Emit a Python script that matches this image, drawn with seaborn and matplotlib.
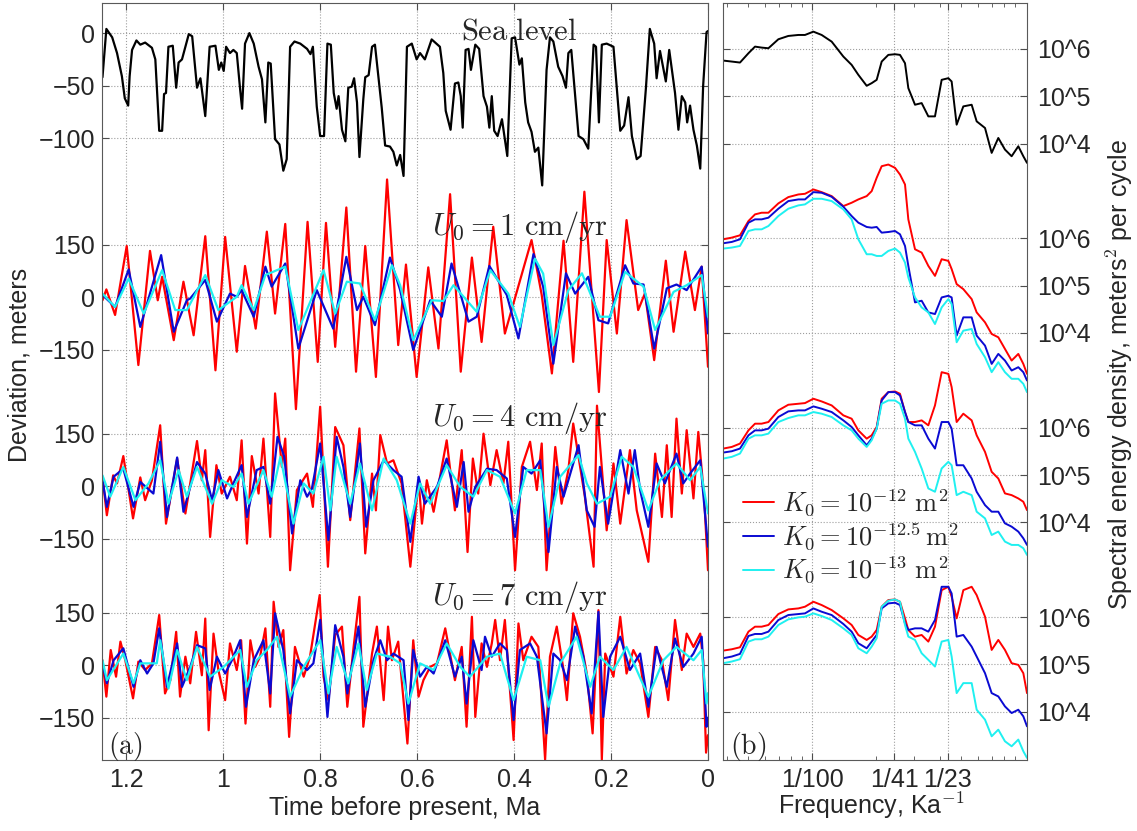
import numpy as np
import matplotlib
matplotlib.use("Agg")
import matplotlib.pyplot as plt
import seaborn as sns
from matplotlib.lines import Line2D
from matplotlib.ticker import LogLocator, NullFormatter, NullLocator

# ---------------- (a) time series: (time before present [Ma], value [m]) ----------------
sea_level = np.array([
    (1.249, -42), (1.241, 4), (1.229, -4), (1.219, -19), (1.209, -41), (1.203, -62), (1.196, -69),
    (1.193, -41), (1.188, -16), (1.179, -7), (1.171, -11), (1.161, -9), (1.147, -14), (1.140, -25),
    (1.137, -51), (1.132, -93), (1.126, -93), (1.122, -58), (1.118, -57), (1.113, -13), (1.104, -12),
    (1.097, -52), (1.092, -28), (1.085, -25), (1.071, -1), (1.064, -3), (1.054, -52), (1.047, -43),
    (1.037, -79), (1.028, -13), (1.016, -12), (1.009, -35), (1.004, -28), (0.999, -36), (0.994, -13),
    (0.986, -19), (0.979, -16), (0.972, -19), (0.965, -54), (0.961, -72), (0.955, -10), (0.946, 0),
    (0.937, -10), (0.927, -32), (0.920, -44), (0.913, -85), (0.907, -28), (0.902, -29), (0.893, -101),
    (0.884, -106), (0.876, -131), (0.869, -120), (0.862, -13), (0.853, -8), (0.841, -10), (0.827, -15),
    (0.820, -20), (0.815, -13), (0.807, -70), (0.800, -98), (0.792, -98), (0.785, -10), (0.778, -11),
    (0.772, -57), (0.766, -72), (0.762, -60), (0.755, -92), (0.748, -103), (0.742, -52), (0.735, -51),
    (0.730, -43), (0.724, -66), (0.719, -118), (0.711, -63), (0.707, -42), (0.700, -40), (0.693, -13),
    (0.687, -11), (0.680, -41), (0.673, -71), (0.666, -107), (0.656, -108), (0.649, -113), (0.642, -126),
    (0.635, -116), (0.628, -136), (0.621, -13), (0.611, -10), (0.601, -25), (0.594, -19), (0.584, -25),
    (0.570, -6), (0.553, -13), (0.546, -38), (0.541, -74), (0.531, -92), (0.522, -48), (0.515, -47),
    (0.510, -60), (0.506, -90), (0.500, -16), (0.494, -15), (0.489, -35), (0.480, -11), (0.472, -15),
    (0.463, -60), (0.456, -70), (0.451, -90), (0.446, -60), (0.441, -93), (0.434, -98), (0.425, -82),
    (0.414, -117), (0.405, -5), (0.398, -4), (0.389, -30), (0.384, -24), (0.377, -66), (0.371, -85),
    (0.364, -94), (0.357, -113), (0.350, -109), (0.342, -145), (0.333, -35), (0.326, -4), (0.319, -8),
    (0.309, -32), (0.300, -41), (0.293, -52), (0.288, -19), (0.282, -16), (0.274, -60), (0.267, -98),
    (0.257, -101), (0.247, -110), (0.236, -11), (0.231, -13), (0.225, -85), (0.219, -11), (0.209, -10),
    (0.195, -13), (0.181, -93), (0.173, -88), (0.164, -61), (0.157, -98), (0.147, -120), (0.139, -117),
    (0.128, -52), (0.120, 4), (0.111, -10), (0.106, -43), (0.099, -17), (0.087, -46), (0.080, -16),
    (0.068, -57), (0.061, -92), (0.054, -60), (0.047, -66), (0.043, -85), (0.037, -69), (0.030, -92),
    (0.023, -107), (0.016, -129), (0.010, -50), (0.003, 1), (0.000, 2)])

# U0 = 1 cm/yr
u1_k12 = np.array([
    (1.249, -9), (1.241, 22), (1.223, -51), (1.199, 146), (1.175, -194), (1.151, 132), (1.135, -9),
    (1.126, 58), (1.102, -123), (1.082, 44), (1.061, -109), (1.037, 174), (1.016, -209), (0.996, 172),
    (0.972, -156), (0.955, 89), (0.933, -90), (0.910, 187), (0.893, -47), (0.872, 209), (0.850, -320),
    (0.826, 215), (0.805, -185), (0.788, 212), (0.769, -142), (0.746, 256), (0.726, -213), (0.707, 146),
    (0.685, -228), (0.662, 336), (0.639, -137), (0.623, 93), (0.601, -228), (0.577, 85), (0.556, -147),
    (0.532, 294), (0.510, -213), (0.487, 113), (0.467, -128), (0.443, 201), (0.419, -104), (0.364, 163),
    (0.343, 6), (0.322, -218), (0.298, 161), (0.278, -185), (0.255, 301), (0.225, -271), (0.209, 163),
    (0.188, -104), (0.168, 220), (0.144, -37), (0.130, 11), (0.111, -180), (0.087, 104), (0.071, -99),
    (0.047, 130), (0.027, -37), (0.013, 87), (0.000, -199)])
u1_k125 = np.array([
    (1.249, 6), (1.223, -28), (1.195, 79), (1.171, -85), (1.128, 120), (1.102, -99), (1.075, -9),
    (1.068, -4), (1.037, 49), (1.013, -70), (0.986, 10), (0.972, 1), (0.962, 20), (0.937, -56),
    (0.913, 87), (0.900, 30), (0.872, 96), (0.845, -147), (0.807, 20), (0.773, -90), (0.746, 115),
    (0.724, -37), (0.711, 1), (0.687, -80), (0.656, 113), (0.635, 20), (0.608, -151), (0.573, -9),
    (0.549, -56), (0.529, 96), (0.494, -70), (0.477, -56), (0.451, 89), (0.415, 6), (0.391, -118),
    (0.360, 123), (0.340, 30), (0.319, -190), (0.293, 68), (0.274, 10), (0.247, 58), (0.226, -66),
    (0.206, -75), (0.171, 91), (0.154, 39), (0.133, 36), (0.111, -147), (0.085, 25), (0.065, 36),
    (0.044, 20), (0.013, 87), (0.000, -104)])
u1_k13 = np.array([
    (1.249, 10), (1.223, -28), (1.195, 53), (1.164, -47), (1.126, 77), (1.099, -37), (1.075, -37),
    (1.037, 63), (1.010, -37), (0.972, 1), (0.962, 34), (0.937, -37), (0.913, 63), (0.872, 87),
    (0.845, -94), (0.793, 77), (0.769, -47), (0.745, 44), (0.718, 39), (0.687, -66), (0.652, 91),
    (0.635, 34), (0.608, -123), (0.570, -9), (0.546, -11), (0.525, 34), (0.477, -42), (0.449, 77),
    (0.412, 10), (0.388, -85), (0.357, 110), (0.340, 67), (0.319, -137), (0.288, 20), (0.260, 68),
    (0.223, -56), (0.202, -56), (0.171, 72), (0.133, 30), (0.109, -94), (0.071, 15), (0.044, 34),
    (0.013, 63), (0.000, -56)])

# U0 = 4 cm/yr
u4_k12 = np.array([
    (1.249, 27), (1.240, -83), (1.227, 31), (1.219, 8), (1.206, 86), (1.186, -92), (1.171, 25),
    (1.161, -40), (1.147, 17), (1.130, 174), (1.118, -107), (1.095, 79), (1.078, -78), (1.068, 8),
    (1.054, 129), (1.044, 17), (1.037, 103), (1.027, -145), (1.014, 60), (1.003, -21), (0.986, 27),
    (0.972, -40), (0.962, 131), (0.951, -164), (0.941, 86), (0.927, -21), (0.917, 136), (0.903, -145),
    (0.893, 265), (0.879, 55), (0.872, 136), (0.862, -240), (0.848, -11), (0.827, 36), (0.815, -59),
    (0.800, 227), (0.784, -230), (0.769, 169), (0.752, 117), (0.738, -97), (0.719, 165), (0.707, -192),
    (0.693, 36), (0.685, -69), (0.676, 146), (0.662, 65), (0.649, 74), (0.632, 8), (0.614, -230),
    (0.597, 17), (0.590, -107), (0.580, 17), (0.566, -73), (0.539, 131), (0.522, -69), (0.508, 103),
    (0.496, -188), (0.485, 79), (0.474, -21), (0.463, 150), (0.449, 3), (0.436, 103), (0.422, 8),
    (0.412, 127), (0.398, -240), (0.384, 55), (0.367, 127), (0.353, -11), (0.343, 122), (0.333, -240),
    (0.315, 112), (0.302, -50), (0.288, 46), (0.278, 179), (0.254, -30), (0.236, -230), (0.229, 230),
    (0.209, -126), (0.195, 65), (0.181, -107), (0.161, 103), (0.147, -69), (0.123, -216), (0.109, 93),
    (0.095, -88), (0.085, 117), (0.075, -88), (0.065, 193), (0.054, -21), (0.044, 160), (0.030, -35),
    (0.020, 155), (0.008, -30), (0.000, -240)])
u4_k125 = np.array([
    (1.249, 17), (1.240, -59), (1.226, 27), (1.206, 50), (1.185, -59), (1.171, 12), (1.144, -21),
    (1.130, 127), (1.116, -88), (1.095, 82), (1.082, -73), (1.054, 69), (1.037, 36), (1.023, -40),
    (1.010, 46), (0.992, -35), (0.979, 8), (0.962, 60), (0.951, -88), (0.931, 46), (0.917, 55),
    (0.903, -50), (0.888, 141), (0.874, 84), (0.858, -135), (0.841, 17), (0.827, -30), (0.817, -7),
    (0.800, 122), (0.783, -154), (0.766, 141), (0.752, 55), (0.738, -88), (0.718, 122), (0.705, -116),
    (0.690, 17), (0.669, 74), (0.649, 46), (0.632, 27), (0.614, -159), (0.597, 27), (0.584, -50),
    (0.559, -2), (0.539, 79), (0.518, -59), (0.504, 69), (0.494, -73), (0.480, -2), (0.456, 50),
    (0.436, 46), (0.415, 22), (0.398, -145), (0.381, 55), (0.364, 36), (0.346, 74), (0.329, -188),
    (0.312, 55), (0.298, -30), (0.267, 117), (0.250, -69), (0.234, -116), (0.223, 55), (0.206, -107),
    (0.181, 103), (0.164, -21), (0.151, 103), (0.140, -11), (0.123, -116), (0.106, 65), (0.089, 8),
    (0.065, 93), (0.051, 8), (0.037, 36), (0.016, 74), (0.000, -173)])
u4_k13 = np.array([
    (1.249, 31), (1.233, -30), (1.206, 55), (1.181, -40), (1.154, 8), (1.130, 74), (1.113, -50),
    (1.092, 46), (1.075, -30), (1.054, 55), (1.023, -50), (1.003, 17), (0.979, -2), (0.962, 36),
    (0.948, -50), (0.917, 46), (0.900, -30), (0.882, 84), (0.855, -107), (0.834, 8), (0.814, -21),
    (0.793, 84), (0.779, -69), (0.766, 84), (0.738, -50), (0.718, 65), (0.693, -69), (0.669, 79),
    (0.642, 17), (0.614, -107), (0.594, 8), (0.573, -50), (0.539, 60), (0.511, -2), (0.484, -30),
    (0.456, 46), (0.429, 27), (0.398, -78), (0.374, 46), (0.346, 46), (0.329, -116), (0.305, 27),
    (0.267, 89), (0.250, 8), (0.229, -50), (0.202, -30), (0.178, 84), (0.154, 55), (0.123, -69),
    (0.099, 17), (0.065, 65), (0.037, 17), (0.016, 55), (0.000, -78)])

# U0 = 7 cm/yr
u7_k12 = np.array([
    (1.249, 14), (1.241, -90), (1.232, 43), (1.221, -33), (1.212, 67), (1.202, 14), (1.186, -95),
    (1.175, 10), (1.161, -14), (1.147, 5), (1.132, 143), (1.120, -81), (1.109, -43), (1.097, 95),
    (1.089, -90), (1.078, 24), (1.068, -52), (1.056, 95), (1.044, -29), (1.037, 133), (1.030, -186),
    (1.020, 90), (1.010, -14), (0.996, -100), (0.986, 62), (0.972, -14), (0.963, 71), (0.954, -167),
    (0.944, 71), (0.934, -5), (0.924, 24), (0.913, 105), (0.903, -119), (0.896, 181), (0.886, 52),
    (0.876, 100), (0.864, -205), (0.852, 52), (0.834, -33), (0.821, 24), (0.801, 200), (0.793, -33),
    (0.783, -100), (0.769, 86), (0.755, 110), (0.744, -119), (0.731, 52), (0.719, 195), (0.711, -176),
    (0.693, 33), (0.683, 110), (0.669, -100), (0.660, 110), (0.652, 14), (0.639, 67), (0.620, -224),
    (0.608, 71), (0.597, -90), (0.587, -43), (0.573, -5), (0.559, 5), (0.542, 105), (0.522, -43),
    (0.508, 52), (0.498, -176), (0.487, 138), (0.480, -148), (0.467, 62), (0.456, -5), (0.446, 62),
    (0.439, 129), (0.429, 14), (0.419, 129), (0.401, -214), (0.391, 119), (0.381, 14), (0.364, 81),
    (0.350, 52), (0.336, -270), (0.326, 24), (0.312, 110), (0.298, -14), (0.291, -100), (0.278, 148),
    (0.264, 81), (0.250, -24), (0.238, -195), (0.226, 157), (0.219, -270), (0.212, 33), (0.195, -33),
    (0.181, 138), (0.168, -24), (0.154, 43), (0.140, 5), (0.123, -148), (0.109, 52), (0.095, 14),
    (0.082, -100), (0.068, 129), (0.054, -14), (0.044, 90), (0.030, 52), (0.016, 90), (0.010, 14),
    (0.004, -250), (0.000, -200)])
u7_k125 = np.array([
    (1.249, 5), (1.240, -52), (1.226, 14), (1.206, 48), (1.185, -62), (1.171, 14), (1.157, -24),
    (1.144, 5), (1.132, 105), (1.116, -62), (1.095, 62), (1.085, -62), (1.068, -5), (1.054, 57),
    (1.037, 48), (1.028, -71), (1.013, 24), (0.996, -24), (0.982, 14), (0.965, 71), (0.953, -119),
    (0.937, 14), (0.917, 71), (0.903, -81), (0.893, 148), (0.876, 43), (0.862, -138), (0.848, 14),
    (0.827, -14), (0.814, 5), (0.800, 129), (0.785, -148), (0.769, 114), (0.752, 24), (0.744, -81),
    (0.721, 110), (0.707, -119), (0.690, 14), (0.676, 71), (0.662, 14), (0.649, 33), (0.628, 14),
    (0.618, -157), (0.608, 43), (0.594, -33), (0.580, -5), (0.566, -24), (0.542, 71), (0.522, -33),
    (0.508, 24), (0.498, -110), (0.484, 71), (0.467, -14), (0.460, 81), (0.446, 24), (0.429, 62),
    (0.415, 43), (0.401, -157), (0.388, 43), (0.367, 62), (0.353, 24), (0.333, -195), (0.319, 33),
    (0.305, 14), (0.291, -43), (0.274, 110), (0.257, 24), (0.240, -138), (0.226, 152), (0.216, -148),
    (0.202, 24), (0.181, 81), (0.161, -14), (0.140, 33), (0.123, -119), (0.106, 52), (0.085, -62),
    (0.068, 76), (0.051, -5), (0.030, 33), (0.013, 81), (0.003, -176), (0.000, -150)])
u7_k13 = np.array([
    (1.249, 14), (1.240, -43), (1.206, 33), (1.185, -52), (1.171, 5), (1.137, 5), (1.130, 71),
    (1.113, -67), (1.095, 43), (1.075, -43), (1.054, 52), (1.027, -33), (0.999, -5), (0.965, 43),
    (0.951, -62), (0.931, 14), (0.910, 43), (0.889, 81), (0.862, -90), (0.834, -5), (0.800, 71),
    (0.783, -81), (0.766, 52), (0.742, -52), (0.721, 62), (0.704, -71), (0.683, 33), (0.656, 24),
    (0.635, 5), (0.618, -110), (0.594, 5), (0.566, -14), (0.539, 62), (0.511, -5), (0.491, -33),
    (0.456, 24), (0.429, 33), (0.401, -100), (0.374, 24), (0.346, 14), (0.329, -119), (0.305, 5),
    (0.271, 81), (0.243, -62), (0.223, 24), (0.195, -14), (0.168, 52), (0.123, -90), (0.092, 14),
    (0.065, 52), (0.030, 14), (0.013, 43), (0.003, -110), (0.000, -80)])

# ---------------- (b) spectra: frequency [1/ka], log10 of spectral density ----------------
spec_freq = [0.00383, 0.00420, 0.00459, 0.00503, 0.00540, 0.00580, 0.00624, 0.00695, 0.00774, 0.00863,
             0.00927, 0.01015, 0.01110, 0.01237, 0.01403, 0.01535, 0.01650, 0.01806, 0.01906, 0.02012,
             0.02124, 0.02282, 0.02453, 0.02589, 0.02733, 0.02833, 0.03045, 0.03272, 0.03517, 0.03779,
             0.04062, 0.04366, 0.04525, 0.04777, 0.05134, 0.05618, 0.05931, 0.06491, 0.06975, 0.07494,
             0.08053, 0.08655, 0.09304, 0.09822, 0.10220]
spec_sea = [5.754, 5.733, 5.712, 5.909, 6.049, 6.028, 6.014, 6.204, 6.274, 6.295,
            6.295, 6.365, 6.295, 6.154, 5.839, 5.663, 5.453, 5.221, 5.277, 5.347,
            5.733, 5.874, 5.888, 5.874, 5.698, 5.172, 4.821, 4.856, 4.575, 4.575,
            5.347, 5.382, 5.312, 4.400, 4.786, 4.821, 4.470, 4.330, 3.804, 4.119,
            3.874, 3.733, 3.944, 3.733, 3.593]
spec_u1_k12 = [5.979, 6.014, 6.063, 6.365, 6.505, 6.540, 6.540, 6.737, 6.870, 6.926,
               6.940, 7.032, 6.975, 6.891, 6.680, 6.751, 6.821, 6.891, 6.996, 7.278,
               7.523, 7.558, 7.488, 7.347, 7.137, 6.400, 5.768, 5.698, 5.417, 5.206,
               5.558, 5.523, 5.350, 5.032, 4.926, 4.716, 4.435, 4.225, 3.979, 3.909,
               3.663, 3.417, 3.558, 3.347, 3.137]
spec_u1_k125 = [5.895, 5.923, 5.979, 6.330, 6.400, 6.400, 6.435, 6.625, 6.786, 6.821,
                6.821, 6.975, 6.962, 6.877, 6.667, 6.470, 6.330, 6.239, 6.224, 6.239,
                6.119, 6.133, 6.154, 6.084, 5.838, 5.417, 4.646, 4.681, 4.435, 4.400,
                4.751, 4.786, 4.751, 3.944, 4.330, 4.330, 3.944, 3.733, 3.347, 3.558,
                3.417, 3.207, 3.277, 3.172, 2.996]
spec_u1_k13 = [5.783, 5.804, 5.838, 6.154, 6.189, 6.189, 6.259, 6.470, 6.625, 6.695,
               6.716, 6.835, 6.835, 6.786, 6.611, 6.400, 5.979, 5.663, 5.663, 5.627,
               5.627, 5.733, 5.783, 5.698, 5.488, 5.172, 4.751, 4.540, 4.435, 4.189,
               4.540, 4.716, 4.611, 3.804, 4.049, 4.084, 3.768, 3.488, 3.172, 3.383,
               3.172, 3.032, 3.032, 2.926, 2.751]
spec_u4_k12 = [5.558, 5.593, 5.663, 5.943, 6.084, 6.084, 6.119, 6.365, 6.484, 6.505,
               6.519, 6.611, 6.554, 6.470, 6.260, 6.189, 5.943, 5.768, 5.838, 6.014,
               6.611, 6.751, 6.765, 6.716, 6.330, 6.119, 6.119, 6.154, 6.049, 6.470,
               7.172, 7.137, 6.856, 6.119, 6.295, 6.154, 5.838, 5.488, 5.067, 4.926,
               4.611, 4.575, 4.505, 4.435, 4.259]
spec_u4_k125 = [5.474, 5.502, 5.558, 5.838, 5.943, 5.943, 5.979, 6.225, 6.344, 6.365,
                6.365, 6.449, 6.400, 6.330, 6.154, 6.014, 5.838, 5.628, 5.768, 5.979,
                6.575, 6.751, 6.751, 6.681, 6.330, 6.119, 6.049, 6.049, 5.768, 5.558,
                6.119, 6.119, 5.979, 5.206, 5.206, 4.926, 4.646, 4.364, 4.225, 4.225,
                3.979, 3.909, 3.804, 3.663, 3.523]
spec_u4_k13 = [5.347, 5.383, 5.453, 5.768, 5.838, 5.838, 5.874, 6.119, 6.203, 6.260,
               6.260, 6.330, 6.295, 6.225, 6.049, 5.943, 5.768, 5.593, 5.733, 5.979,
               6.505, 6.575, 6.575, 6.505, 6.189, 5.768, 5.488, 5.137, 4.716, 4.646,
               5.137, 5.278, 5.206, 4.575, 4.646, 4.575, 4.225, 4.084, 3.733, 3.804,
               3.593, 3.523, 3.523, 3.453, 3.312]
spec_u7_k12 = [5.291, 5.319, 5.361, 5.691, 5.796, 5.796, 5.832, 6.063, 6.161, 6.182,
               6.218, 6.323, 6.253, 6.147, 5.972, 5.832, 5.621, 5.516, 5.586, 5.726,
               6.218, 6.358, 6.372, 6.323, 5.972, 5.726, 5.586, 5.621, 5.481, 5.796,
               6.568, 6.639, 6.428, 5.972, 6.568, 6.639, 6.463, 6.007, 5.305, 5.516,
               5.305, 5.025, 4.989, 4.814, 4.393]
spec_u7_k125 = [5.130, 5.165, 5.221, 5.600, 5.642, 5.642, 5.691, 5.937, 6.042, 6.063,
                6.077, 6.182, 6.112, 6.042, 5.853, 5.691, 5.446, 5.340, 5.481, 5.621,
                6.182, 6.288, 6.302, 6.253, 5.867, 5.726, 5.761, 5.761, 5.691, 5.937,
                6.639, 6.639, 6.498, 5.586, 5.621, 5.375, 5.165, 4.814, 4.393, 4.323,
                4.112, 3.972, 4.042, 3.902, 3.691]
spec_u7_k13 = [5.025, 5.060, 5.109, 5.481, 5.530, 5.530, 5.586, 5.832, 5.951, 5.993,
               6.007, 6.077, 6.021, 5.937, 5.761, 5.621, 5.340, 5.235, 5.375, 5.551,
               6.218, 6.344, 6.372, 6.323, 5.832, 5.586, 5.516, 5.235, 5.095, 4.954,
               5.481, 5.516, 5.165, 4.393, 4.604, 4.604, 4.042, 3.832, 3.481, 3.621,
               3.375, 3.270, 3.411, 3.165, 3.025]

k_labels = [r"$K_0 = 10^{-12}\ \mathrm{m}^2$", r"$K_0 = 10^{-12.5}\,\mathrm{m}^2$",
            r"$K_0 = 10^{-13}\ \mathrm{m}^2$"]
u_labels = [r"$U_0 = 1\ \mathrm{cm/yr}$", r"$U_0 = 4\ \mathrm{cm/yr}$", r"$U_0 = 7\ \mathrm{cm/yr}$"]

# ---------------- style ----------------
sns.set_style("ticks")
plt.rcParams["font.family"] = ["Liberation Sans", "DejaVu Sans"]
plt.rcParams["mathtext.fontset"] = "cm"
plt.rcParams["axes.unicode_minus"] = True

colors = ["#ff0000", "#0a0ad2", "#1ff0f0"]
grid_kw = dict(ls=":", color="0.62", lw=0.8)
tick_fs = 18

fig = plt.figure(figsize=(11.37, 8.31), dpi=100)
ax = fig.add_axes([102 / 1137, 71 / 831, 606 / 1137, 757 / 831])
axs = fig.add_axes([723 / 1137, 71 / 831, 304 / 1137, 757 / 831])

# ---------------- panel (a) ----------------
sea_off, sea_scale = 1805, 3.0
offsets = [1051, 511, 0]
sns.lineplot(x=sea_level[:, 0], y=sea_off + sea_scale * sea_level[:, 1], ax=ax,
             color="k", lw=1.6, sort=False, estimator=None)
for off, series in zip(offsets, [(u1_k12, u1_k125, u1_k13),
                                 (u4_k12, u4_k125, u4_k13),
                                 (u7_k12, u7_k125, u7_k13)]):
    for s, c in zip(series, colors):
        sns.lineplot(x=s[:, 0], y=off + s[:, 1], ax=ax, color=c, lw=1.6,
                     sort=False, estimator=None)

ax.set_xlim(1.25, 0)
ax.set_ylim(-271, 1891)
ax.set_xticks([1.2, 1.0, 0.8, 0.6, 0.4, 0.2, 0.0])
ax.set_xticklabels(["1.2", "1", "0.8", "0.6", "0.4", "0.2", "0"])
yt, yl = [sea_off, sea_off - 50 * sea_scale, sea_off - 100 * sea_scale], ["0", "\u221250", "\u2212100"]
for off in offsets:
    yt += [off + 150, off, off - 150]
    yl += ["150", "0", "\u2212150"]
ax.set_yticks(yt)
ax.set_yticklabels(yl)
ax.grid(True, **grid_kw)
ax.tick_params(which="both", direction="in", top=True, right=True, length=5,
               labelsize=tick_fs, color="0.3")
ax.tick_params(axis="x", pad=6)
ax.tick_params(axis="y", pad=5)
for sp in ax.spines.values():
    sp.set_color("0.35")
ax.set_xlabel("")
ax.set_ylabel("")

ax.text(0.39, 1811, r"$\mathrm{Sea\ level}$", fontsize=22, ha="center", va="center")
for off, lab, yc in zip(offsets, u_labels, [1251, 706, 194]):
    ax.text(0.389, yc, lab, fontsize=22, ha="center", va="center")
ax.text(0.038, 0.018, r"$\mathrm{(a)}$", transform=ax.transAxes, fontsize=20,
        ha="center", va="center")

# ---------------- panel (b) ----------------
axs.set_xscale("log")
axs.set_yscale("log")
freq = np.array(spec_freq)
sns.lineplot(x=freq, y=10 ** (np.array(spec_sea) + 12), ax=axs, color="k", lw=1.4,
             sort=False, estimator=None)
for shift, series in zip([8, 4, 0], [(spec_u1_k12, spec_u1_k125, spec_u1_k13),
                                     (spec_u4_k12, spec_u4_k125, spec_u4_k13),
                                     (spec_u7_k12, spec_u7_k125, spec_u7_k13)]):
    for s, c in zip(series, colors):
        sns.lineplot(x=freq, y=10 ** (np.array(s) + shift), ax=axs, color=c, lw=1.4,
                     sort=False, estimator=None)

axs.set_xlim(0.00382, 0.1022)
axs.set_ylim(10 ** 2.98, 10 ** 18.97)
axs.set_xticks([1 / 100, 1 / 41, 1 / 23])
axs.set_xticklabels(["1/100", "1/41", "1/23"])
axs.xaxis.set_minor_locator(LogLocator(base=10, subs=np.arange(2, 10)))
axs.xaxis.set_minor_formatter(NullFormatter())
spec_ticks = []
for shift in [0, 4, 8, 12]:
    spec_ticks += [10.0 ** (4 + shift), 10.0 ** (5 + shift), 10.0 ** (6 + shift)]
axs.set_yticks(spec_ticks)
axs.set_yticklabels(["10^4", "10^5", "10^6"] * 4)
axs.yaxis.set_minor_locator(NullLocator())
axs.yaxis.tick_right()
axs.grid(True, which="major", **grid_kw)
axs.tick_params(which="both", direction="in", top=True, bottom=True, left=True, right=True,
                labelsize=tick_fs, color="0.3")
axs.tick_params(which="major", length=5)
axs.tick_params(which="minor", length=3)
axs.tick_params(axis="x", pad=6)
axs.tick_params(axis="y", pad=7)
for sp in axs.spines.values():
    sp.set_color("0.35")
axs.set_xlabel("")
axs.set_ylabel("")
axs.text(0.082, 0.018, r"$\mathrm{(b)}$", transform=axs.transAxes, fontsize=20,
         ha="center", va="center")

handles = [Line2D([], [], color=c, lw=1.4) for c in colors]
axs.legend(handles, k_labels, loc="upper left", bbox_to_anchor=(0.065, 0.36), frameon=False,
           fontsize=19, handlelength=1.2, handletextpad=0.3, labelspacing=0.12,
           borderpad=0, borderaxespad=0)

# ---------------- axis titles ----------------
fig.text(20 / 1137, 1 - 365 / 831, "Deviation, meters", rotation=90, fontsize=tick_fs,
         ha="center", va="center")
fig.text(405 / 1137, 1 - 808 / 831, "Time before present, Ma", fontsize=tick_fs,
         ha="center", va="center")
fig.text(871 / 1137, 1 - 806 / 831, r"Frequency, Ka$^{\mathsf{-1}}$", fontsize=tick_fs,
         ha="center", va="center")
fig.text(1120 / 1137, 1 - 375 / 831, r"Spectral energy density, meters$^{\mathsf{2}}$ per cycle",
         rotation=90, fontsize=tick_fs, ha="center", va="center")

fig.savefig("out.png", dpi=100, facecolor="white")
